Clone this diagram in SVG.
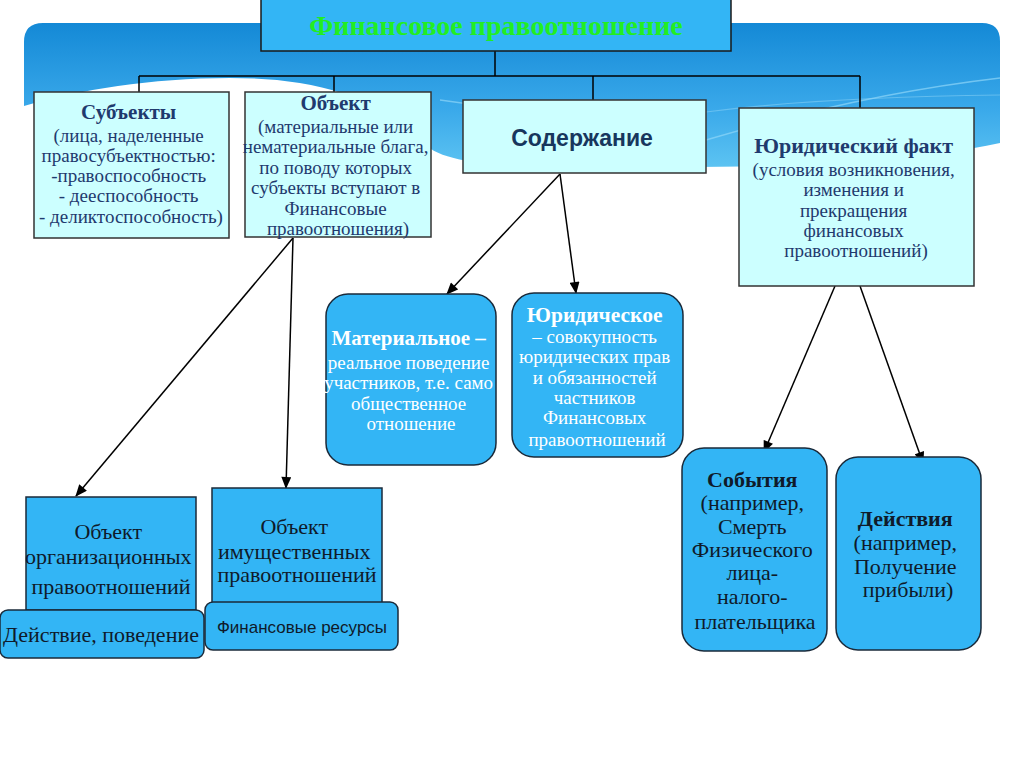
<svg xmlns="http://www.w3.org/2000/svg" width="1024" height="767" viewBox="0 0 1024 767">
<defs>
<linearGradient id="bg" x1="0" y1="0" x2="0" y2="1">
<stop offset="0" stop-color="#1489d6"/>
<stop offset="0.6" stop-color="#3aa9ea"/>
<stop offset="1" stop-color="#5cc3f2"/>
</linearGradient>
<marker id="ah" viewBox="0 0 12 10" refX="11" refY="5" markerWidth="13" markerHeight="10" markerUnits="userSpaceOnUse" orient="auto">
<path d="M0,0 L12,5 L0,10 Z" fill="#000"/>
</marker>
<style>
.lt{fill:#ccffff;stroke:#333;stroke-width:1.5}
.bl{fill:#33b5f5;stroke:#1a2a3a;stroke-width:1.5}
.s{font-family:"Liberation Serif","DejaVu Serif",serif;text-anchor:middle}
.ss{font-family:"Liberation Sans",Arial,sans-serif;text-anchor:middle}
.nv{fill:#1f3a6e}
.wh{fill:#ffffff}
.dk{fill:#0f1a2a}
.b{font-weight:bold}
.conn line{stroke:#000;stroke-width:1.5;fill:none}
</style>
</defs>
<rect width="1024" height="767" fill="#ffffff"/>
<g id="background">
<path d="M24,42 Q24,23 43,23 L982,23 Q1000,23 1000,41 L1000,143 C870,170 700,168 560,166 C480,165 440,162 420,140 C370,90 300,78 230,78 C150,78 80,90 24,106 Z" fill="url(#bg)"/>
<path d="M440,100 C560,115 640,140 706,160" stroke="#8fd6f8" stroke-width="1.5" fill="none" opacity="0.7"/>
<path d="M706,140 C780,118 880,92 1000,78" stroke="#8fd6f8" stroke-width="1.5" fill="none" opacity="0.7"/>
<path d="M706,112 C800,100 900,96 1000,95" stroke="#8fd6f8" stroke-width="1.2" fill="none" opacity="0.5"/>
</g>
<g class="conn" id="connectors">
<line x1="495" y1="51" x2="495" y2="76"/>
<line x1="139" y1="76" x2="860" y2="76"/>
<line x1="139" y1="76" x2="139" y2="92"/>
<line x1="334" y1="76" x2="334" y2="92"/>
<line x1="593" y1="76" x2="593" y2="100"/>
<line x1="860" y1="76" x2="860" y2="108"/>
<line x1="293" y1="238" x2="76" y2="496" marker-end="url(#ah)"/>
<line x1="293" y1="238" x2="286" y2="488" marker-end="url(#ah)"/>
<line x1="560" y1="174" x2="447" y2="294" marker-end="url(#ah)"/>
<line x1="560" y1="174" x2="576" y2="293" marker-end="url(#ah)"/>
<line x1="835" y1="286" x2="764" y2="452" marker-end="url(#ah)"/>
<line x1="860" y1="286" x2="923" y2="463" marker-end="url(#ah)"/>
</g>
<g id="title">
<rect x="261" y="-2" width="470" height="53" fill="#33b5f5" stroke="#1a1a1a" stroke-width="1.5"/>
<text x="496" y="35" class="s b" font-size="28" fill="#22ee22">Финансовое правоотношение</text>
</g>
<g id="subjects">
<rect x="34" y="92" width="195" height="146" class="lt"/>
<text class="s nv" font-size="19">
<tspan x="131" y="119" class="b" font-size="21">Субъекты</tspan>
<tspan x="131" y="142">(лица, наделенные</tspan>
<tspan x="131" y="162">правосубъектностью:</tspan>
<tspan x="131" y="182">-правоспособность</tspan>
<tspan x="131" y="202">- дееспособность</tspan>
<tspan x="131" y="223">- деликтоспособность)</tspan>
</text>
</g>
<g id="object">
<rect x="245" y="92" width="186" height="145" class="lt"/>
<text class="s nv" font-size="19">
<tspan x="338" y="110" class="b" font-size="21">Объект</tspan>
<tspan x="338" y="133">(материальные или</tspan>
<tspan x="338" y="153">нематериальные блага,</tspan>
<tspan x="338" y="174">по поводу которых</tspan>
<tspan x="338" y="194">субъекты вступают в</tspan>
<tspan x="338" y="215">Финансовые</tspan>
<tspan x="338" y="235">правоотношения)</tspan>
</text>
</g>
<g id="content">
<rect x="463" y="100" width="243" height="73" class="lt"/>
<text x="582" y="146" class="ss b" font-size="23" fill="#17365d">Содержание</text>
</g>
<g id="legal-fact">
<rect x="739" y="108" width="235" height="178" class="lt"/>
<text class="s nv" font-size="19">
<tspan x="856" y="153" class="b" font-size="22">Юридический факт</tspan>
<tspan x="856" y="176">(условия возникновения,</tspan>
<tspan x="856" y="196">изменения и</tspan>
<tspan x="856" y="217">прекращения</tspan>
<tspan x="856" y="237">финансовых</tspan>
<tspan x="856" y="257">правоотношений)</tspan>
</text>
</g>
<g id="material">
<rect x="326" y="294" width="170" height="171" rx="22" class="bl"/>
<text class="s wh" font-size="19">
<tspan x="411" y="345" class="b" font-size="21">Материальное –</tspan>
<tspan x="411" y="369">реальное поведение</tspan>
<tspan x="411" y="389">участников, т.е. само</tspan>
<tspan x="411" y="410">общественное</tspan>
<tspan x="411" y="430">отношение</tspan>
</text>
</g>
<g id="juridical">
<rect x="512" y="293" width="171" height="164" rx="22" class="bl"/>
<text class="s wh" font-size="19">
<tspan x="597" y="322" class="b" font-size="21.5">Юридическое</tspan>
<tspan x="597" y="343">– совокупность</tspan>
<tspan x="597" y="363">юридических прав</tspan>
<tspan x="597" y="384">и обязанностей</tspan>
<tspan x="597" y="404">частников</tspan>
<tspan x="597" y="424">Финансовых</tspan>
<tspan x="597" y="446">правоотношений</tspan>
</text>
</g>
<g id="org-object">
<rect x="26" y="497" width="170" height="113" class="bl"/>
<text class="s dk" font-size="22">
<tspan x="111" y="539">Объект</tspan>
<tspan x="111" y="564">организационных</tspan>
<tspan x="111" y="594">правоотношений</tspan>
</text>
</g>
<g id="action-behavior">
<rect x="0" y="610" width="204" height="48" rx="8" class="bl"/>
<text x="101" y="642" class="s dk" font-size="22">Действие, поведение</text>
</g>
<g id="property-object">
<rect x="212" y="488" width="170" height="116" class="bl"/>
<text class="s dk" font-size="22">
<tspan x="297" y="534">Объект</tspan>
<tspan x="297" y="559">имущественных</tspan>
<tspan x="297" y="582">правоотношений</tspan>
</text>
</g>
<g id="fin-resources">
<rect x="205" y="602" width="193" height="48" rx="8" class="bl"/>
<text x="302" y="633" class="ss dk" font-size="17">Финансовые ресурсы</text>
</g>
<g id="events">
<rect x="682" y="448" width="145" height="203" rx="22" class="bl"/>
<text class="s dk" font-size="22">
<tspan x="755" y="487" class="b">События</tspan>
<tspan x="755" y="510">(например,</tspan>
<tspan x="755" y="534">Смерть</tspan>
<tspan x="755" y="557">Физического</tspan>
<tspan x="755" y="580">лица-</tspan>
<tspan x="755" y="604">налого-</tspan>
<tspan x="755" y="629">плательщика</tspan>
</text>
</g>
<g id="actions">
<rect x="836" y="457" width="145" height="193" rx="22" class="bl"/>
<text class="s dk" font-size="22">
<tspan x="908" y="526" class="b">Действия</tspan>
<tspan x="908" y="550">(например,</tspan>
<tspan x="908" y="574">Получение</tspan>
<tspan x="908" y="597">прибыли)</tspan>
</text>
</g>
</svg>
